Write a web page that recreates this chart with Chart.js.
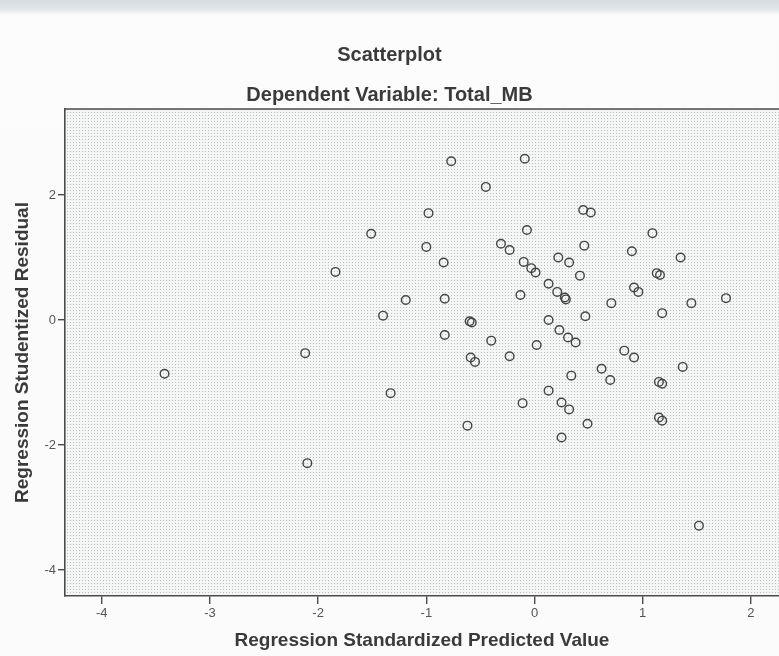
<!DOCTYPE html>
<html>
<head>
<meta charset="utf-8">
<script src="https://cdn.jsdelivr.net/npm/chart.js@4.4.0/dist/chart.umd.min.js"></script>
<style>
html, body { margin: 0; padding: 0; }
body {
  width: 779px; height: 656px; overflow: hidden;
  background: linear-gradient(to bottom, #d6dce1 0px, #e1e5e8 9px, #fcfcfc 15px, #fbfbfb 100%);
}
canvas { display: block; }
</style>
</head>
<body>
<canvas id="scatter" width="779" height="656"></canvas>
<script>
// Regression Standardized Predicted Value (x)
const predicted = [
  -0.77, -0.09, -0.45, -0.98, 0.45, 0.52, -0.07, 1.09, -1.00, -0.31,
  -0.23, 0.46, 0.90, 1.35, -0.84, -0.10, -0.03, 0.01, 0.22, 0.32,
  0.42, 1.13, 1.16, 0.13, 0.21, 0.28, 0.29, 0.92, 0.96, -1.19,
  -0.83, -0.13, 0.71, 1.45, 1.77, -1.40, -0.60, -0.58, 0.47, 1.18,
  0.13, -0.83, -0.40, 0.02, 0.23, 0.31, 0.38, -0.59, -0.55, -0.23,
  0.83, 0.92, 1.37, 0.34, 0.62, 0.70, 1.15, 1.18, 0.13, -1.33,
  -0.11, 0.25, 0.32, -0.62, 0.49, 0.25, 1.15, 1.18, 1.52, -1.51,
  -1.84, -2.12, -3.42, -2.10
];
// Regression Studentized Residual (y)
const residual = [
  2.54, 2.58, 2.13, 1.71, 1.76, 1.72, 1.44, 1.39, 1.17, 1.22,
  1.12, 1.19, 1.10, 1.00, 0.92, 0.93, 0.83, 0.76, 1.00, 0.92,
  0.71, 0.75, 0.72, 0.58, 0.45, 0.36, 0.33, 0.52, 0.45, 0.32,
  0.34, 0.40, 0.27, 0.27, 0.35, 0.07, -0.02, -0.04, 0.06, 0.11,
  0.00, -0.24, -0.33, -0.40, -0.16, -0.28, -0.36, -0.60, -0.67, -0.58,
  -0.49, -0.60, -0.75, -0.89, -0.78, -0.96, -0.99, -1.02, -1.13, -1.17,
  -1.33, -1.32, -1.43, -1.69, -1.66, -1.88, -1.56, -1.61, -3.29, 1.38,
  0.77, -0.53, -0.86, -2.29
];
const xTicks = [-4, -3, -2, -1, 0, 1, 2];
const yTicks = [-4, -2, 0, 2];

const family = "'Liberation Sans', Arial, sans-serif";
const textColor = "#3a3a3a";
const frameColor = "#4b4b4b";

// dotted halftone look of the plot background
const dots = document.createElement("canvas");
dots.width = 3;
dots.height = 3;
const dctx = dots.getContext("2d");
dctx.fillStyle = "#f4f5f5";
dctx.fillRect(0, 0, 3, 3);
dctx.fillStyle = "#bcbfc0";
dctx.fillRect(1, 1, 1, 1);

const plotFrame = {
  id: "plotFrame",
  beforeDraw(chart) {
    const { ctx, chartArea: a } = chart;
    ctx.save();
    ctx.fillStyle = ctx.createPattern(dots, "repeat");
    ctx.fillRect(a.left, a.top, a.right - a.left, a.bottom - a.top);
    ctx.restore();
  },
  afterDraw(chart) {
    const { ctx, chartArea: a } = chart;
    ctx.save();
    ctx.strokeStyle = frameColor;
    ctx.lineWidth = 1.6;
    ctx.beginPath();
    ctx.moveTo(a.left, a.top);
    ctx.lineTo(a.right, a.top);
    ctx.stroke();
    ctx.restore();
  },
};

const ctx = document.getElementById("scatter");
const chart = new Chart(ctx, {
  type: "scatter",
  data: {
    datasets: [
      {
        data: predicted.map((x, i) => ({ x: x, y: residual[i] })),
        pointStyle: "circle",
        pointRadius: 4.3,
        borderWidth: 1.4,
        borderColor: "#454545",
        backgroundColor: "rgba(0,0,0,0)",
      },
    ],
  },
  options: {
    responsive: false,
    animation: false,
    layout: { padding: 0, autoPadding: false },
    plugins: {
      legend: { display: false },
      tooltip: { enabled: false },
      title: {
        display: true,
        text: "Scatterplot",
        color: textColor,
        font: { family: family, size: 20, weight: "bold" },
        padding: { top: 43, bottom: 16 },
      },
      subtitle: {
        display: true,
        text: "Dependent Variable: Total_MB",
        color: textColor,
        font: { family: family, size: 20, weight: "bold" },
        padding: { top: 0, bottom: 2 },
      },
    },
    scales: {
      x: {
        type: "linear",
        min: -4.34,
        max: 2.26,
        afterBuildTicks: (s) => { s.ticks = xTicks.map((v) => ({ value: v })); },
        afterFit: (s) => { s.height = 60; s.paddingLeft = 0; s.paddingRight = 0; },
        grid: { drawOnChartArea: false, tickLength: 8, color: frameColor, lineWidth: 1.4 },
        border: { color: frameColor, width: 1.6 },
        ticks: { color: "#555", padding: 2, font: { family: family, size: 13 } },
        title: {
          display: true,
          text: "Regression Standardized Predicted Value",
          color: textColor,
          font: { family: family, size: 19, weight: "bold" },
          padding: { top: 4 },
        },
      },
      y: {
        type: "linear",
        min: -4.416,
        max: 3.376,
        afterBuildTicks: (s) => { s.ticks = yTicks.map((v) => ({ value: v })); },
        afterFit: (s) => { s.width = 65; s.paddingTop = 0; s.paddingBottom = 0; },
        grid: { drawOnChartArea: false, tickLength: 7, color: frameColor, lineWidth: 1.4 },
        border: { color: frameColor, width: 1.6 },
        ticks: { color: "#555", padding: 2, font: { family: family, size: 13 } },
        title: {
          display: true,
          text: "Regression Studentized Residual",
          color: textColor,
          font: { family: family, size: 19, weight: "bold" },
          padding: { top: 11 },
        },
      },
    },
  },
  plugins: [plotFrame],
});
</script>
</body>
</html>
